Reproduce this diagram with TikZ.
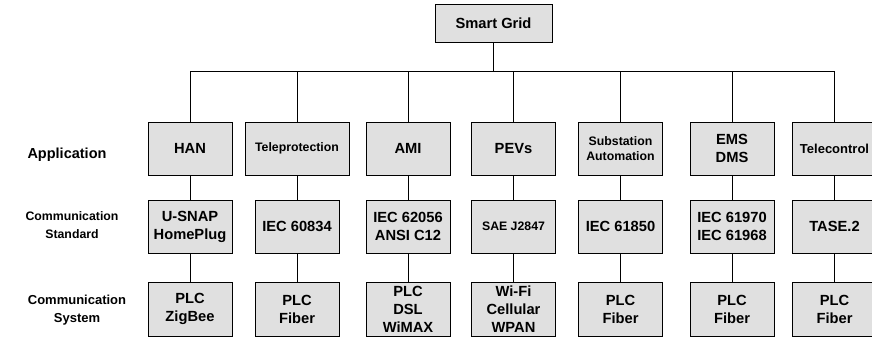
\documentclass[tikz,border=0pt]{standalone}
\usepackage{fontspec}
\setmainfont{Liberation Sans}
\usetikzlibrary{positioning}
\tikzstyle{box} = [rectangle, 
minimum width=84pt, 
minimum height=53pt,
inner sep=0pt,
align=center, 
draw=black, 
line width=1pt,
fill=black!12,
font=\bfseries\fontsize{14.7}{18}\selectfont]
\tikzstyle{smalltext} = [font=\bfseries\fontsize{12.3}{15}\selectfont]
\tikzstyle{link} = [line width=0.9pt]
\tikzstyle{rowlabel} = [align=center, font=\bfseries\fontsize{13}{18.5}\selectfont]

\begin{document}
\begin{tikzpicture}[x=1pt, y=-1pt]
		
		% Canvas boundary
		\useasboundingbox (0,0) rectangle (872,338);
		
		% Root node
		\node[box, minimum width=117pt, minimum height=38pt] (grid) at (493.5, 23) {Smart Grid};
		
		% Application layer nodes
		\node[box] (app1) at (190, 148.5) {HAN};
		\node[box, smalltext, minimum width=104pt] (app2) at (297, 148.5) {Teleprotection};
		\node[box] (app3) at (408, 148.5) {AMI};
		\node[box] (app4) at (513.5, 148.5) {PEVs};
		\node[box, smalltext] (app5) at (620.5, 148.5) {Substation\\Automation};
		\node[box] (app6) at (732, 148.5) {EMS\\DMS};
		\node[box, font=\bfseries\fontsize{13}{16}\selectfont] (app7) at (834.5, 148.5) {Telecontrol};
		
		% Communication standard nodes
		\node[box] (std1) at (190, 226.5) {U-SNAP\\HomePlug};
		\node[box] (std2) at (297, 226.5) {IEC 60834};
		\node[box] (std3) at (408, 226.5) {IEC 62056\\ANSI C12};
		\node[box, smalltext] (std4) at (513.5, 226.5) {SAE J2847};
		\node[box] (std5) at (620.5, 226.5) {IEC 61850};
		\node[box] (std6) at (732, 226.5) {IEC 61970\\IEC 61968};
		\node[box] (std7) at (834.5, 226.5) {TASE.2};
		
		% Communication system nodes
		\node[box, minimum height=54pt] (sys1) at (190, 309) {PLC\\ZigBee};
		\node[box, minimum height=54pt] (sys2) at (297, 309) {PLC\\Fiber};
		\node[box, minimum height=54pt] (sys3) at (408, 309) {PLC\\DSL\\WiMAX};
		\node[box, minimum height=54pt] (sys4) at (513.5, 309) {Wi-Fi\\Cellular\\WPAN};
		\node[box, minimum height=54pt] (sys5) at (620.5, 309) {PLC\\Fiber};
		\node[box, minimum height=54pt] (sys6) at (732, 309) {PLC\\Fiber};
		\node[box, minimum height=54pt] (sys7) at (834.5, 309) {PLC\\Fiber};
		
		% Row labels
		\node[rowlabel, font=\bfseries\fontsize{14.5}{18}\selectfont] (lapp) at (67, 154.5) {Application};
		\node[rowlabel, font=\bfseries\fontsize{12.3}{18.5}\selectfont] (lstd) at (72, 225) {Communication\\Standard};
		\node[rowlabel] (lsys) at (77, 310) {Communication\\System};
		
		% Draw connections
		\foreach \i in {1,...,7}
			\draw[link] (grid.south) -- ++(0,29) -| (app\i.north);
		\foreach \i in {1,...,7}
			\draw[link] (app\i.south) -- (std\i.north);
		\foreach \i in {1,...,7}
			\draw[link] (std\i.south) -- (sys\i.north);
		
	\end{tikzpicture}
\end{document}
